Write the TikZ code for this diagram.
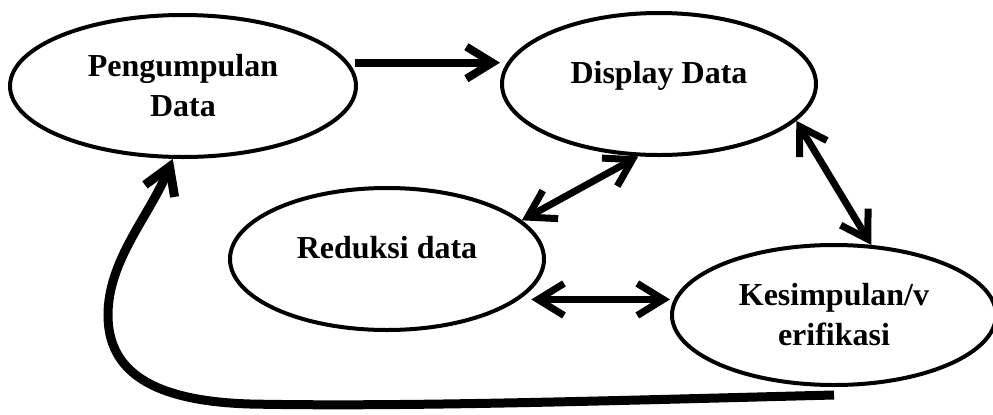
\documentclass[tikz,border=0pt]{standalone}
\usepackage{fontspec}
\setmainfont{Liberation Serif}
\usetikzlibrary{shapes.geometric,arrows.meta}

\begin{document}
\begin{tikzpicture}[x=0.5pt,y=-0.5pt,
  blob/.style={ellipse,draw,line width=2pt,inner sep=0pt,align=center,
    font=\bfseries\fontsize{16}{20}\selectfont},
  barb/.tip={Straight Barb[length=13pt,width=16pt]},
  onearrow/.style={line width=4pt,-barb},
  twoarrow/.style={line width=3.5pt,barb-barb}]
\useasboundingbox (0,0) rectangle (993,414);
\node[blob,minimum width=173pt,minimum height=71pt] (peng) at (183,86) {Pengumpulan\\Data};
\node[blob,minimum width=157pt,minimum height=71pt,text depth=12pt] (disp) at (659,84) {Display Data};
\node[blob,minimum width=157pt,minimum height=71pt,text depth=12pt] (redu) at (387,259) {Reduksi data};
\node[blob,minimum width=162pt,minimum height=70pt] (kesi) at (834,315) {Kesimpulan/v\\erifikasi};
\draw[onearrow,shorten <=3pt] (peng.8) -- (peng.8 -| disp.west);
\draw[twoarrow] (redu.16) -- (disp.254);
\draw[twoarrow] (disp.345) -- (kesi.62);
\draw[twoarrow,shorten <=6pt] (redu.-17) -- (redu.-17 -| kesi.west);
\draw[line width=4.5pt,-barb] ([yshift=-4pt]kesi.south)
  .. controls (600,401) and (400,407) .. (250,404)
  .. controls (150,401) and (108,370) .. (108,315)
  .. controls (108,260) and (150,215) .. (peng.262);
\end{tikzpicture}
\end{document}
